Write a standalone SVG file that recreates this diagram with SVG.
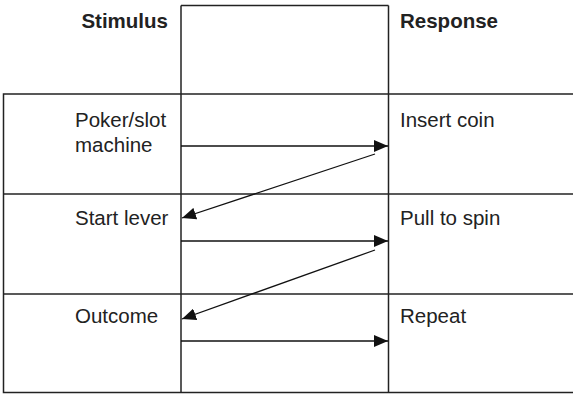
<svg xmlns="http://www.w3.org/2000/svg" width="573" height="394" viewBox="0 0 573 394">
<style>
.ln{stroke:#222;stroke-width:1.5;fill:none}
.t{font-family:"Liberation Sans",Arial,sans-serif;font-size:20.5px;fill:#222}
.b{font-weight:bold}
.c{stroke:#111;stroke-width:1.3;fill:none}
</style>
<defs>
<marker id="ah" viewBox="0 0 14 12" refX="14" refY="6" markerWidth="14" markerHeight="12" markerUnits="userSpaceOnUse" orient="auto">
<path d="M0,0 L14,6 L0,12 Z" fill="#111"/>
</marker>
</defs>
<g id="grid">
<rect class="ln" x="3.5" y="94" width="571" height="298.5"/>
<line class="ln" x1="181" y1="5.5" x2="181" y2="392.5"/>
<line class="ln" x1="388.5" y1="5.5" x2="388.5" y2="392.5"/>
<line class="ln" x1="181" y1="5.5" x2="388.5" y2="5.5"/>
<line class="ln" x1="3.5" y1="194" x2="573" y2="194"/>
<line class="ln" x1="3.5" y1="294" x2="573" y2="294"/>
</g>
<g id="stimulus-header"><text class="t b" x="168" y="28" text-anchor="end">Stimulus</text></g>
<g id="response-header"><text class="t b" x="400" y="28">Response</text></g>
<g id="poker"><text class="t" x="75" y="127">Poker/slot</text><text class="t" x="75" y="152">machine</text></g>
<g id="insert"><text class="t" x="400" y="127">Insert coin</text></g>
<g id="start"><text class="t" x="75" y="225">Start lever</text></g>
<g id="pull"><text class="t" x="400" y="225">Pull to spin</text></g>
<g id="outcome"><text class="t" x="75" y="323">Outcome</text></g>
<g id="repeat"><text class="t" x="400" y="323">Repeat</text></g>
<g id="connectors">
<line class="c" x1="181" y1="146" x2="388" y2="146" marker-end="url(#ah)"/>
<line class="c" x1="375" y1="154" x2="182" y2="218" marker-end="url(#ah)"/>
<line class="c" x1="181" y1="241" x2="388" y2="241" marker-end="url(#ah)"/>
<line class="c" x1="375" y1="250" x2="182" y2="319" marker-end="url(#ah)"/>
<line class="c" x1="181" y1="341" x2="388" y2="341" marker-end="url(#ah)"/>
</g>
</svg>
